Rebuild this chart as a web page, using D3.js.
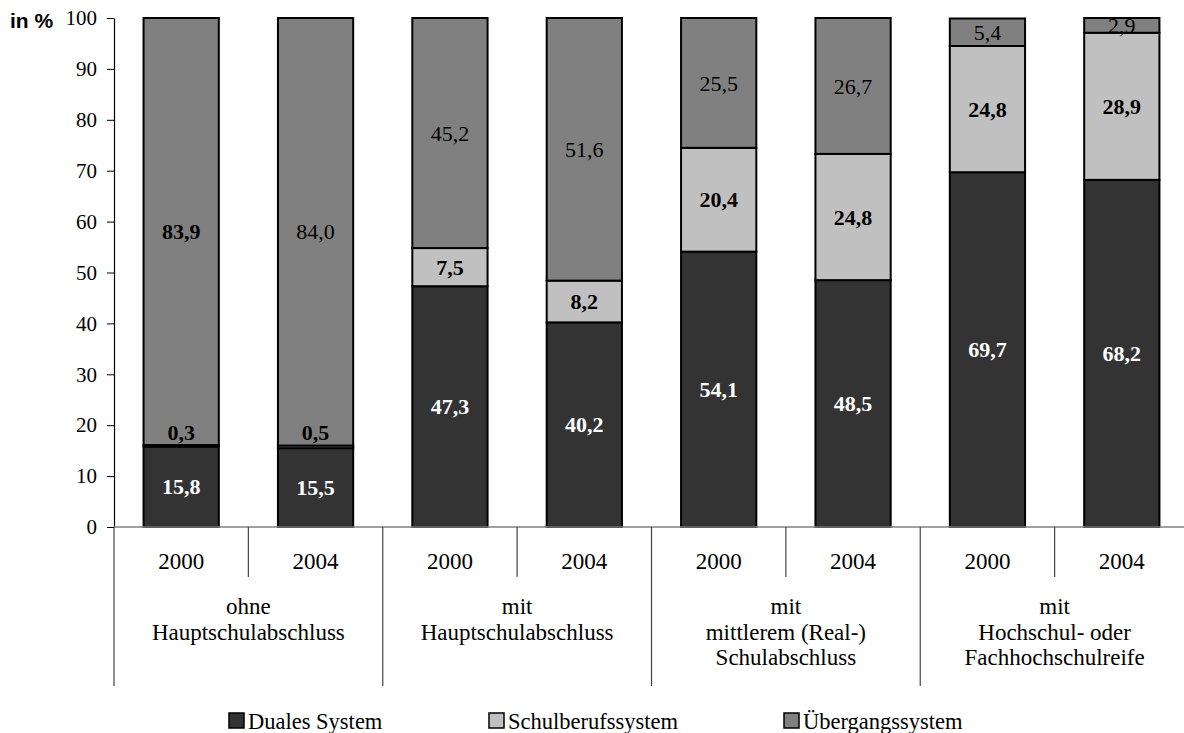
<!DOCTYPE html>
<html>
<head>
<meta charset="utf-8">
<script src="https://cdn.jsdelivr.net/npm/d3@7"></script>
<style>
  body { margin: 0; background: #fff; }
  text { font-family: "Liberation Serif", "Times New Roman", serif; }
</style>
</head>
<body>
<div id="chartTarget"></div>
<script>
  // values
  let years = ['2000', '2004', '2000', '2004', '2000', '2004', '2000', '2004'];
  let groups = [
    ['ohne', 'Hauptschulabschluss'],
    ['mit', 'Hauptschulabschluss'],
    ['mit', 'mittlerem (Real-)', 'Schulabschluss'],
    ['mit', 'Hochschul- oder', 'Fachhochschulreife']
  ];
  let seriesNames = ['Duales System', 'Schulberufssystem', 'Übergangssystem'];
  let duales = [15.8, 15.5, 47.3, 40.2, 54.1, 48.5, 69.7, 68.2];
  let schulberuf = [0.3, 0.5, 7.5, 8.2, 20.4, 24.8, 24.8, 28.9];
  let uebergang = [83.9, 84.0, 45.2, 51.6, 25.5, 26.7, 5.4, 2.9];
  let yTicks = [0, 10, 20, 30, 40, 50, 60, 70, 80, 90, 100];

  let colors = ['#333333', '#c0c0c0', '#808080'];
  let width = 1184;
  let height = 733;
  let plotLeft = 114, plotRight = 1189, plotTop = 18, plotBottom = 527;

  let svg = d3.select('#chartTarget').append('svg')
    .attr('width', width)
    .attr('height', height);

  let x = d3.scaleBand()
    .domain(d3.range(years.length))
    .range([plotLeft, plotRight])
    .paddingInner(0.44)
    .paddingOuter(0.22);

  let y = d3.scaleLinear()
    .domain([0, 100])
    .range([plotBottom, plotTop]);

  let rows = years.map((yr, i) => ({ i: i, d: duales[i], s: schulberuf[i], u: uebergang[i] }));
  let stack = d3.stack().keys(['d', 's', 'u'])(rows);

  // bars
  stack.forEach((layer, k) => {
    svg.append('g').selectAll('rect')
      .data(layer)
      .enter().append('rect')
        .attr('x', d => x(d.data.i))
        .attr('y', d => y(d[1]))
        .attr('width', x.bandwidth())
        .attr('height', d => y(d[0]) - y(d[1]))
        .attr('fill', colors[k])
        .attr('stroke', '#000')
        .attr('stroke-width', 2);
  });

  // value labels
  let fmt = v => v.toFixed(1).replace('.', ',');
  stack.forEach((layer, k) => {
    svg.append('g').selectAll('text')
      .data(layer)
      .enter().append('text')
        .attr('x', d => x(d.data.i) + x.bandwidth() / 2)
        .attr('y', d => {
          let v = d[1] - d[0];
          // tiny segments get their label just above
          if (v < 2) return y(d[1]) - 13;
          return y((d[0] + d[1]) / 2);
        })
        .attr('dy', '0.35em')
        .attr('text-anchor', 'middle')
        .style('font-size', '22px')
        .style('font-weight', d => {
          if (k < 2) return 'bold';
          return d.data.i === 0 ? 'bold' : 'normal';
        })
        .attr('fill', k === 0 ? '#fff' : '#000')
        .text(d => fmt(d[1] - d[0]));
  });

  // y axis
  let yAxis = d3.axisLeft(y)
    .tickValues(yTicks)
    .tickSizeInner(7)
    .tickSizeOuter(0)
    .tickPadding(10);

  let gy = svg.append('g')
    .attr('transform', `translate(${plotLeft},0)`)
    .call(yAxis);
  gy.select('.domain').attr('stroke', '#000').attr('stroke-width', 1.2);
  gy.selectAll('.tick line').attr('stroke', '#000');
  gy.selectAll('.tick text')
    .style('font-family', '"Liberation Serif", serif')
    .style('font-size', '21px')
    .attr('fill', '#000');

  svg.append('text')
    .attr('x', 10)
    .attr('y', 28)
    .style('font-family', '"Liberation Sans", Arial, sans-serif')
    .style('font-weight', 'bold')
    .style('font-size', '21px')
    .text('in %');

  // x axis with years
  let xAxis = d3.axisBottom(x)
    .tickSize(0)
    .tickPadding(26)
    .tickFormat(i => years[i]);

  let gx = svg.append('g')
    .attr('transform', `translate(0,${plotBottom})`)
    .call(xAxis);
  gx.select('.domain').remove();
  gx.selectAll('.tick text')
    .style('font-family', '"Liberation Serif", serif')
    .style('font-size', '23px')
    .attr('fill', '#000');

  svg.append('line')
    .attr('x1', plotLeft).attr('x2', plotRight)
    .attr('y1', plotBottom).attr('y2', plotBottom)
    .attr('stroke', '#808080')
    .attr('stroke-width', 1.5);

  // separators
  let step = x.step();
  d3.range(years.length + 1).forEach(i => {
    let xx = plotLeft + i * step;
    svg.append('line')
      .attr('x1', xx).attr('x2', xx)
      .attr('y1', plotBottom)
      .attr('y2', i % 2 === 0 ? 686 : 577)
      .attr('stroke', '#444')
      .attr('stroke-width', 1.2);
  });

  // group labels
  groups.forEach((lines, g) => {
    let cx = plotLeft + (g * 2 + 1) * step;
    let t = svg.append('text')
      .attr('text-anchor', 'middle')
      .style('font-size', '23px');
    lines.forEach((ln, j) => {
      t.append('tspan')
        .attr('x', cx)
        .attr('y', 614 + j * 25.5)
        .text(ln);
    });
  });

  // legend
  let legendX = [229, 489, 784];
  seriesNames.forEach((name, k) => {
    svg.append('rect')
      .attr('x', legendX[k])
      .attr('y', 713)
      .attr('width', 15)
      .attr('height', 15)
      .attr('fill', colors[k])
      .attr('stroke', '#000')
      .attr('stroke-width', 1.5);
    svg.append('text')
      .attr('x', legendX[k] + 19)
      .attr('y', 729)
      .style('font-size', '22.5px')
      .text(name);
  });
</script>
</body>
</html>
